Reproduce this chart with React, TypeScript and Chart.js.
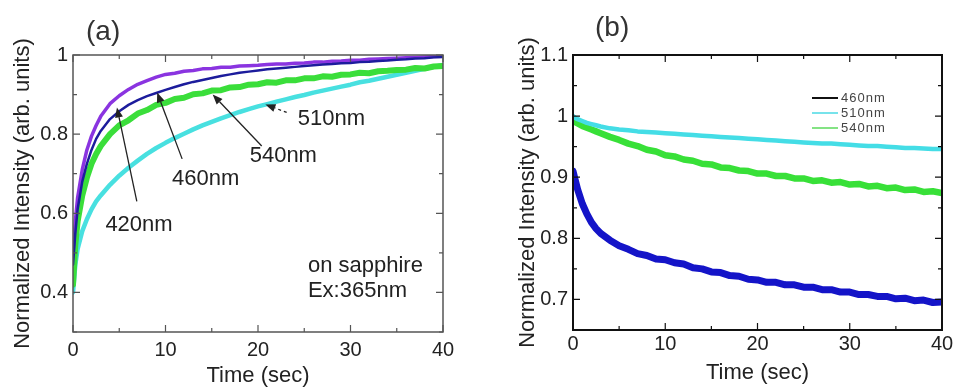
import React, { useEffect, useRef } from 'react';
import { Chart, registerables } from 'chart.js';

Chart.register(...registerables);

// ---------- data ----------
const TIME = [0, 0.25, 0.5, 1, 1.5, 2, 2.5, 3, 4, 5, 6, 7, 8, 9, 10, 11, 12, 13, 14, 15, 16, 17, 18, 19, 20, 21, 22, 23, 24, 25, 26, 27, 28, 29, 30, 31, 32, 33, 34, 35, 36, 37, 38, 39, 40];

// panel (a): rise curves on sapphire
const A_420 = [0.50, 0.58, 0.64, 0.71, 0.76, 0.795, 0.822, 0.845, 0.877, 0.897, 0.913, 0.926, 0.935, 0.944, 0.951, 0.954, 0.959, 0.961, 0.965, 0.966, 0.969, 0.969, 0.972, 0.973, 0.974, 0.976, 0.977, 0.977, 0.979, 0.980, 0.982, 0.982, 0.984, 0.985, 0.987, 0.987, 0.989, 0.990, 0.991, 0.992, 0.993, 0.994, 0.995, 0.996, 0.997];
const A_460 = [0.47, 0.55, 0.61, 0.68, 0.725, 0.76, 0.788, 0.808, 0.838, 0.858, 0.874, 0.886, 0.896, 0.904, 0.912, 0.919, 0.926, 0.932, 0.937, 0.942, 0.947, 0.951, 0.955, 0.958, 0.961, 0.964, 0.966, 0.968, 0.970, 0.972, 0.974, 0.976, 0.977, 0.979, 0.980, 0.982, 0.983, 0.985, 0.986, 0.988, 0.989, 0.991, 0.992, 0.994, 0.995];
const A_540 = [0.42, 0.52, 0.58, 0.645, 0.69, 0.725, 0.75, 0.77, 0.80, 0.822, 0.835, 0.852, 0.861, 0.874, 0.879, 0.889, 0.892, 0.901, 0.903, 0.910, 0.911, 0.918, 0.919, 0.925, 0.926, 0.931, 0.930, 0.936, 0.936, 0.941, 0.941, 0.946, 0.945, 0.950, 0.951, 0.955, 0.954, 0.959, 0.960, 0.962, 0.963, 0.967, 0.966, 0.971, 0.972];
const A_510 = [0.40, 0.47, 0.51, 0.555, 0.585, 0.61, 0.63, 0.645, 0.672, 0.695, 0.715, 0.733, 0.75, 0.765, 0.778, 0.79, 0.801, 0.812, 0.822, 0.831, 0.84, 0.848, 0.856, 0.863, 0.87, 0.876, 0.882, 0.888, 0.894, 0.899, 0.905, 0.91, 0.915, 0.92, 0.925, 0.931, 0.935, 0.94, 0.945, 0.95, 0.955, 0.96, 0.965, 0.97, 0.975];

// panel (b): decay curves
const B_460 = [0.91, 0.895, 0.88, 0.857, 0.84, 0.826, 0.816, 0.808, 0.797, 0.788, 0.782, 0.775, 0.772, 0.766, 0.765, 0.76, 0.758, 0.752, 0.75, 0.745, 0.744, 0.739, 0.738, 0.733, 0.732, 0.728, 0.728, 0.724, 0.724, 0.72, 0.72, 0.716, 0.716, 0.712, 0.712, 0.708, 0.708, 0.705, 0.705, 0.701, 0.702, 0.698, 0.699, 0.695, 0.696];
const B_510 = [1.0, 0.997, 0.995, 0.992, 0.989, 0.987, 0.985, 0.983, 0.980, 0.978, 0.977, 0.975, 0.974, 0.973, 0.972, 0.971, 0.970, 0.969, 0.968, 0.967, 0.966, 0.965, 0.964, 0.963, 0.962, 0.961, 0.960, 0.959, 0.958, 0.957, 0.956, 0.955, 0.955, 0.954, 0.953, 0.952, 0.951, 0.951, 0.950, 0.949, 0.948, 0.948, 0.947, 0.946, 0.946];
const B_540 = [0.995, 0.99, 0.988, 0.984, 0.981, 0.978, 0.975, 0.972, 0.966, 0.961, 0.955, 0.951, 0.945, 0.942, 0.936, 0.934, 0.929, 0.927, 0.922, 0.921, 0.916, 0.915, 0.911, 0.910, 0.906, 0.906, 0.902, 0.902, 0.898, 0.898, 0.894, 0.895, 0.891, 0.892, 0.888, 0.889, 0.885, 0.886, 0.882, 0.883, 0.879, 0.880, 0.876, 0.877, 0.874];

// axis ranges / ticks
const X_MIN = 0, X_MAX = 40, X_STEP = 5, X_LABEL_EVERY = 10;
const A_Y_MIN = 0.3, A_Y_MAX = 1, A_Y_STEP = 0.1;
const B_Y_MIN = 0.65, B_Y_MAX = 1.1, B_Y_STEP = 0.05;

// annotations in panel (a) (data coordinates)
const A_NOTES = ['510nm', '540nm', '460nm', '420nm'];
const A_NOTE_T = [24.3, 19.1, 10.7, 3.5];
const A_NOTE_Y = [0.8375, 0.745, 0.6875, 0.57];
const A_ARROW_FROM_T = [23.1, 20.4, 11.8, 6.9];
const A_ARROW_FROM_Y = [0.855, 0.77, 0.7375, 0.63];
const A_ARROW_TO_T = [20.8, 15.1, 9.1, 4.75];
const A_ARROW_TO_Y = [0.875, 0.9, 0.905, 0.8675];
const A_INFO = ['on sapphire', 'Ex:365nm'];
const A_INFO_T = 25.4;
const A_INFO_Y = [0.4675, 0.405];

const B_LEGEND = ['460nm', '510nm', '540nm'];

const FONT = "'Liberation Sans', Arial, Helvetica, sans-serif";
const TXT = '#222';

const pts = (ys: number[]) => TIME.map((t, i) => ({ x: t, y: ys[i] }));

function decorPlugin(opts: any) {
  return {
    id: 'decor' + opts.name,
    afterDatasetsDraw(chart: any) {
      const ctx = chart.ctx;
      const { left, right, top, bottom } = chart.chartArea;
      const xs = chart.scales.x;
      const ys = chart.scales.y;
      ctx.save();
      // frame
      ctx.strokeStyle = opts.frame;
      ctx.lineWidth = opts.frameWidth;
      ctx.strokeRect(left, top, right - left, bottom - top);
      // inward ticks, all four sides
      ctx.lineWidth = 1.2;
      for (const t of xs.ticks) {
        const px = xs.getPixelForValue(t.value);
        const len = t.label !== '' ? 7 : 4;
        ctx.beginPath();
        ctx.moveTo(px, bottom); ctx.lineTo(px, bottom - len);
        ctx.moveTo(px, top); ctx.lineTo(px, top + len);
        ctx.stroke();
      }
      for (const t of ys.ticks) {
        const py = ys.getPixelForValue(t.value);
        const len = t.label !== '' ? 7 : 4;
        ctx.beginPath();
        ctx.moveTo(left, py); ctx.lineTo(left + len, py);
        ctx.moveTo(right, py); ctx.lineTo(right - len, py);
        ctx.stroke();
      }
      ctx.restore();
      if (opts.draw) opts.draw(chart, xs, ys);
      // panel label
      ctx.save();
      ctx.fillStyle = '#333';
      ctx.font = `28px ${FONT}`;
      ctx.textBaseline = 'middle';
      ctx.textAlign = 'left';
      ctx.fillText(opts.panel, left + opts.panelDx, top - opts.panelDy);
      ctx.restore();
    },
  };
}

function drawA(chart: any, xs: any, ys: any) {
  const ctx = chart.ctx;
  ctx.save();
  ctx.fillStyle = TXT;
  ctx.strokeStyle = TXT;
  ctx.font = `22px ${FONT}`;
  ctx.textBaseline = 'middle';
  ctx.textAlign = 'left';
  A_NOTES.forEach((txt, i) => {
    ctx.fillText(txt, xs.getPixelForValue(A_NOTE_T[i]), ys.getPixelForValue(A_NOTE_Y[i]));
    const x1 = xs.getPixelForValue(A_ARROW_FROM_T[i]);
    const y1 = ys.getPixelForValue(A_ARROW_FROM_Y[i]);
    const x2 = xs.getPixelForValue(A_ARROW_TO_T[i]);
    const y2 = ys.getPixelForValue(A_ARROW_TO_Y[i]);
    const ang = Math.atan2(y2 - y1, x2 - x1);
    const hl = 10, hw = 4;
    const bx = x2 - hl * Math.cos(ang), by = y2 - hl * Math.sin(ang);
    ctx.lineWidth = 1.3;
    ctx.setLineDash(i === 0 ? [3, 3] : []);
    ctx.beginPath();
    ctx.moveTo(x1, y1);
    ctx.lineTo(bx, by);
    ctx.stroke();
    ctx.setLineDash([]);
    ctx.beginPath();
    ctx.moveTo(x2, y2);
    ctx.lineTo(bx + hw * Math.sin(ang), by - hw * Math.cos(ang));
    ctx.lineTo(bx - hw * Math.sin(ang), by + hw * Math.cos(ang));
    ctx.closePath();
    ctx.fill();
  });
  A_INFO.forEach((txt, i) => {
    ctx.fillText(txt, xs.getPixelForValue(A_INFO_T), ys.getPixelForValue(A_INFO_Y[i]));
  });
  ctx.restore();
}

function drawB(chart: any) {
  const ctx = chart.ctx;
  const { left, top } = chart.chartArea;
  const colors = ['#111111', '#55dde6', '#66dd66'];
  ctx.save();
  ctx.font = `13px ${FONT}`;
  (ctx as any).letterSpacing = '1px';
  ctx.textBaseline = 'middle';
  ctx.fillStyle = '#444';
  B_LEGEND.forEach((txt, i) => {
    const y = top + 43 + i * 15;
    ctx.strokeStyle = colors[i];
    ctx.lineWidth = i === 0 ? 2 : 1.6;
    ctx.beginPath();
    ctx.moveTo(left + 239, y);
    ctx.lineTo(left + 265, y);
    ctx.stroke();
    ctx.fillText(txt, left + 268, y);
  });
  ctx.restore();
}

function labelFmt(v: number) {
  return String(Math.round(v * 10) / 10);
}

function makeConfig(p: any) {
  return {
    type: 'line',
    data: { datasets: p.datasets },
    options: {
      animation: false,
      responsive: false,
      devicePixelRatio: 1,
      layout: { padding: { left: 0, right: p.padRight, top: p.padTop, bottom: 0 } },
      plugins: { legend: { display: false }, tooltip: { enabled: false } },
      elements: { point: { radius: 0 }, line: { tension: 0, borderJoinStyle: 'round', borderCapStyle: 'round' } },
      scales: {
        x: {
          type: 'linear', min: X_MIN, max: X_MAX,
          border: { display: false },
          grid: { display: false, drawTicks: false },
          ticks: {
            stepSize: X_STEP, autoSkip: false, maxRotation: 0, padding: p.xPad,
            color: TXT, font: { family: FONT, size: 20 },
            callback: (v: number) => (Math.round(v) % X_LABEL_EVERY === 0 ? String(v) : ''),
          },
          title: { display: true, text: 'Time (sec)', color: TXT, font: { family: FONT, size: 22 }, padding: { top: 0, bottom: p.xTitlePad } },
          afterFit: (s: any) => { s.height = p.xHeight; },
        },
        y: {
          type: 'linear', min: p.yMin, max: p.yMax,
          border: { display: false },
          grid: { display: false, drawTicks: false },
          ticks: {
            stepSize: p.yStep, autoSkip: false, padding: 5,
            color: TXT, font: { family: FONT, size: 20 },
            callback: (v: number) => (Math.round(v / p.yStep) % 2 === 0 ? labelFmt(v) : ''),
          },
          title: { display: true, text: 'Normalized Intensity (arb. units)', color: TXT, font: { family: FONT, size: 22 }, padding: { top: p.yTitlePad, bottom: 0 } },
          afterFit: (s: any) => { s.width = p.yWidth; },
        },
      },
    },
    plugins: [decorPlugin(p.decor)],
  };
}

export default function App() {
  const refA = useRef<HTMLCanvasElement>(null);
  const refB = useRef<HTMLCanvasElement>(null);

  useEffect(() => {
    const ds = (label: string, ys: number[], color: string, w: number, order: number) => ({
      label, data: pts(ys), borderColor: color, backgroundColor: color, borderWidth: w, fill: false, order,
    });
    const chartA = new Chart(refA.current as HTMLCanvasElement, makeConfig({
      datasets: [
        ds('460nm', A_460, '#1c1c9c', 2.5, 0),
        ds('420nm', A_420, '#8a34e0', 3.5, 1),
        ds('540nm', A_540, '#3ade3a', 6, 2),
        ds('510nm', A_510, '#48e0e0', 4.5, 3),
      ],
      padRight: 37, padTop: 55, xHeight: 60, yWidth: 73, xPad: 6, xTitlePad: 3, yTitlePad: 10,
      yMin: A_Y_MIN, yMax: A_Y_MAX, yStep: A_Y_STEP,
      decor: { name: 'A', frame: '#555', frameWidth: 1.5, panel: '(a)', panelDx: 13, panelDy: 23, draw: drawA },
    }) as any);
    const chartB = new Chart(refB.current as HTMLCanvasElement, makeConfig({
      datasets: [
        ds('460nm', B_460, '#1414c8', 7, 0),
        ds('510nm', B_510, '#44dde6', 4.5, 1),
        ds('540nm', B_540, '#38e038', 6.5, 2),
      ],
      padRight: 14, padTop: 55, xHeight: 62, yWidth: 93, xPad: 2, xTitlePad: 6, yTitlePad: 35,
      yMin: B_Y_MIN, yMax: B_Y_MAX, yStep: B_Y_STEP,
      decor: { name: 'B', frame: '#111', frameWidth: 2, panel: '(b)', panelDx: 22, panelDy: 27, draw: drawB },
    }) as any);
    return () => { chartA.destroy(); chartB.destroy(); };
  }, []);

  return (
    <div style={{ position: 'absolute', left: 0, top: 0, width: 956, height: 392, background: '#fff', overflow: 'hidden' }}>
      <canvas ref={refA} width={480} height={392} style={{ position: 'absolute', left: 0, top: 0, width: 480, height: 392 }} />
      <canvas ref={refB} width={476} height={392} style={{ position: 'absolute', left: 480, top: 0, width: 476, height: 392 }} />
    </div>
  );
}
